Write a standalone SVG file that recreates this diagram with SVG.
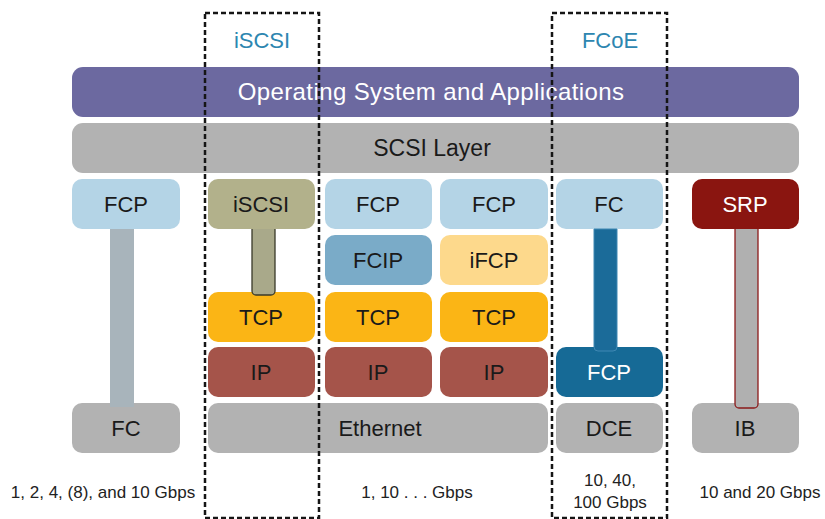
<svg xmlns="http://www.w3.org/2000/svg" width="825" height="519" viewBox="0 0 825 519">
<style>
text{font-family:"Liberation Sans",Arial,sans-serif;text-anchor:middle;fill:#1a1a1a}
.lbl{font-size:22px}
.w{fill:#ffffff}
.top{font-size:22px;fill:#2d86b0}
.spd{font-size:17px;fill:#222}
.dash{fill:none;stroke:#151515;stroke-width:2.5;stroke-dasharray:5 3}
</style>
<rect width="825" height="519" fill="#ffffff"/>
<g id="os"><rect x="72" y="67" width="727" height="50" rx="11" fill="#6c69a0"/><text x="431" y="100" class="w" style="font-size:24px;letter-spacing:0.4px">Operating System and Applications</text></g>
<g id="scsi"><rect x="72" y="123" width="727" height="50" rx="11" fill="#b2b2b2"/><text x="432" y="156" style="font-size:23px">SCSI Layer</text></g>

<g id="fcp1"><rect x="72" y="179" width="108" height="50" rx="10" fill="#b4d4e6"/><text x="126" y="212" class="lbl">FCP</text></g>
<g id="iscsi"><rect x="208" y="179" width="107" height="50" rx="10" fill="#b2b18b"/><text x="261" y="212" class="lbl">iSCSI</text></g>
<g id="fcp2"><rect x="325" y="179" width="107" height="50" rx="10" fill="#b4d4e6"/><text x="378" y="212" class="lbl">FCP</text></g>
<g id="fcp3"><rect x="440" y="179" width="108" height="50" rx="10" fill="#b4d4e6"/><text x="494" y="212" class="lbl">FCP</text></g>
<g id="fc1"><rect x="556" y="179" width="107" height="50" rx="10" fill="#b4d4e6"/><text x="609" y="212" class="lbl">FC</text></g>
<g id="srp"><rect x="692" y="179" width="107" height="50" rx="10" fill="#8a1510"/><text x="745" y="212" class="lbl w">SRP</text></g>

<g id="fcip"><rect x="325" y="235" width="107" height="50" rx="10" fill="#7aabc8"/><text x="378" y="268" class="lbl">FCIP</text></g>
<g id="ifcp"><rect x="440" y="235" width="108" height="50" rx="10" fill="#fdd98c"/><text x="494" y="268" class="lbl">iFCP</text></g>

<g id="tcp1"><rect x="208" y="292" width="107" height="50" rx="10" fill="#fbb515"/><text x="261" y="325" class="lbl">TCP</text></g>
<g id="tcp2"><rect x="325" y="292" width="107" height="50" rx="10" fill="#fbb515"/><text x="378" y="325" class="lbl">TCP</text></g>
<g id="tcp3"><rect x="440" y="292" width="108" height="50" rx="10" fill="#fbb515"/><text x="494" y="325" class="lbl">TCP</text></g>

<g id="ip1"><rect x="208" y="347" width="107" height="50" rx="10" fill="#a5544a"/><text x="261" y="380" class="lbl">IP</text></g>
<g id="ip2"><rect x="325" y="347" width="107" height="50" rx="10" fill="#a5544a"/><text x="378" y="380" class="lbl">IP</text></g>
<g id="ip3"><rect x="440" y="347" width="108" height="50" rx="10" fill="#a5544a"/><text x="494" y="380" class="lbl">IP</text></g>
<g id="fcp4"><rect x="556" y="347" width="107" height="50" rx="10" fill="#166a96"/><text x="609" y="380" class="lbl w">FCP</text></g>

<g id="fc2"><rect x="72" y="403" width="108" height="50" rx="10" fill="#b2b2b2"/><text x="126" y="436" class="lbl">FC</text></g>
<g id="ethernet"><rect x="208" y="403" width="340" height="50" rx="10" fill="#b2b2b2"/><text x="380" y="436" class="lbl">Ethernet</text></g>
<g id="dce"><rect x="556" y="403" width="107" height="50" rx="10" fill="#b2b2b2"/><text x="609" y="436" class="lbl">DCE</text></g>
<g id="ib"><rect x="692" y="403" width="107" height="50" rx="10" fill="#b2b2b2"/><text x="745" y="436" class="lbl">IB</text></g>

<g id="connectors">
<rect x="110" y="229" width="24" height="178" fill="#a8b4bb"/>
<path d="M252,229 V291 a4,4 0 0 0 4,4 h15 a4,4 0 0 0 4,-4 V229" fill="#a9a98a" stroke="#3a3a2a" stroke-width="1.3"/>
<path d="M594,229 V347 a4,4 0 0 0 4,4 h15 a4,4 0 0 0 4,-4 V229 Z" fill="#1b6b99" stroke="#3f88b3" stroke-width="1"/>
<path d="M735,229 V404 a4,4 0 0 0 4,4 h15 a4,4 0 0 0 4,-4 V229" fill="#b0b0b0" stroke="#8b1a1a" stroke-width="1.3"/>
</g>

<g id="labels">
<text x="262" y="48" class="top">iSCSI</text>
<text x="610" y="48" class="top">FCoE</text>
<text x="103" y="498" class="spd">1, 2, 4, (8), and 10 Gbps</text>
<text x="417" y="498" class="spd">1, 10 . . . Gbps</text>
<text x="610" y="486" class="spd">10, 40,</text>
<text x="610" y="508" class="spd">100 Gbps</text>
<text x="760" y="498" class="spd">10 and 20 Gbps</text>
</g>

<g id="groups">
<rect x="205" y="13" width="114" height="505" class="dash"/>
<rect x="552" y="13" width="115" height="505" class="dash"/>
</g>
</svg>
